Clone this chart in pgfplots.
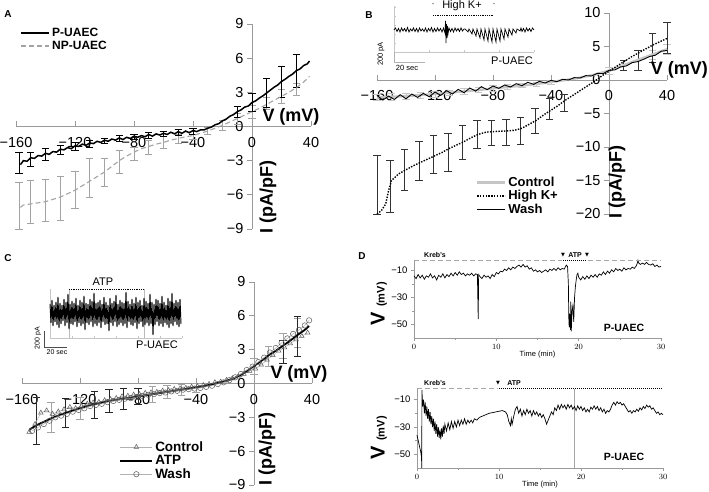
\documentclass[border=0pt]{standalone}
\usepackage{fontspec}
\setmainfont{Liberation Sans}
\newfontfamily\dejavu{DejaVu Sans}
\usepackage{pgfplots}
\pgfplotsset{compat=1.18}
\definecolor{axgray}{HTML}{9A9A9A}
\definecolor{npgray}{HTML}{A3A3A3}
\definecolor{ctlgray}{HTML}{C6C6C6}
\pgfplotsset{
  iv/.style={scale only axis, axis lines=middle, clip=false,
    axis line style={axgray, line width=0.7pt, -},
    every tick/.style={axgray, line width=0.7pt},
    major tick length=5pt,
    hide obscured x ticks=false, hide obscured y ticks=false,
    xtick align=inside, ytick align=outside,
    x tick label style={font=\fontsize{14.5}{16}\selectfont, yshift=-7pt},
    y tick label style={font=\fontsize{14.5}{16}\selectfont},
    xtick={-160,-120,-80,-40,0,40},
    xticklabels={−160,−120,−80,−40,0,40},
    xmin=-160, xmax=40,
    legend image code/.code={\draw[#1] (0pt,0pt) -- (28pt,0pt);},
  },
  ebar/.style={draw=none, mark=none, forget plot,
    error bars/.cd, y dir=both, y explicit,
    error bar style={draw=#1, line width=0.6pt, solid},
    error mark options={draw=#1, rotate=90, mark size=3.6pt, line width=0.6pt, solid}},
  trace/.style={scale only axis, axis lines=left, clip=false,
    axis line style={axgray, line width=0.6pt, -},
    every tick/.style={axgray, line width=0.6pt},
    major tick length=3pt, minor tick length=2pt, tick align=outside,
    xmin=0, xmax=30, ymin=-60, ymax=-2,
    xtick={0,10,20,30}, minor xtick={5,15,25},
    ytick={-10,-30,-50}, yticklabels={−10,−30,−50}, minor ytick={-20,-40},
    x tick label style={font=\fontsize{8}{9}\selectfont},
    y tick label style={font=\fontsize{9.5}{10}\selectfont},
    xlabel={Time (min)}, xlabel style={font=\fontsize{7.5}{8}\selectfont, yshift=5pt},
  },
  inset/.style={scale only axis, clip=false, axis x line=bottom, axis y line=left,
    axis line style={gray!45, line width=0.5pt, -},
    every tick/.style={gray!45, line width=0.4pt},
    major tick length=1.5pt, tick align=inside,
    xticklabels={}, yticklabels={}},
}
\begin{document}
\begin{tikzpicture}
\path[use as bounding box] (0,0) rectangle (709pt,492pt);

% ================= Panel A =================
\begin{axis}[iv, at={(16pt,263pt)}, anchor=south west, width=295pt, height=205pt,
  ymin=-9, ymax=9, ytick={-9,-6,-3,0,3,6,9}, yticklabels={−9,−6,−3,0,3,6,9},
  legend style={at={(0.005,1.0)}, anchor=north west, draw=none, fill=none,
    font=\fontsize{12}{13}\selectfont\bfseries, row sep=-1pt, cells={anchor=west}}]
\addplot[ebar=npgray] coordinates {
 (-158,-6.95) +- (0,2.05) (-150,-6.6) +- (0,1.9) (-140,-6.45) +- (0,1.85)
 (-130,-6.3) +- (0,1.9) (-120,-5.55) +- (0,1.65) (-110,-4.5) +- (0,1.7)
 (-100,-4.0) +- (0,1.25) (-90,-3.1) +- (0,1.05) (-80,-2.4) +- (0,0.6)
 (-70,-1.85) +- (0,0.6) (-60,-1.4) +- (0,0.5) (-50,-1.05) +- (0,0.4)
 (-40,-0.8) +- (0,0.35) (-30,-0.4) +- (0,0.3) (-20,0.1) +- (0,0.4)
 (-10,0.7) +- (0,0.5) (0,1.3) +- (0,0.6) (10,2.05) +- (0,0.5)
 (20,2.65) +- (0,0.6) (30,3.25) +- (0,0.55)};
\addplot[ebar=black] coordinates {
 (-158,-3.2) +- (0,0.9) (-150,-2.9) +- (0,0.6) (-140,-2.45) +- (0,0.5)
 (-130,-2.05) +- (0,0.4) (-120,-1.75) +- (0,0.35) (-110,-1.5) +- (0,0.3)
 (-100,-1.25) +- (0,0.25) (-90,-1.05) +- (0,0.25) (-80,-0.9) +- (0,0.25)
 (-70,-0.75) +- (0,0.25) (-60,-0.65) +- (0,0.25) (-50,-0.5) +- (0,0.25)
 (-40,-0.4) +- (0,0.25) (-10,1.3) +- (0,0.5) (0,2.1) +- (0,0.8)
 (10,2.95) +- (0,1.3) (20,3.95) +- (0,1.35) (30,4.9) +- (0,1.45)};
\addplot[black, line width=1.5pt] coordinates {
(-157,-3.35)(-155,-3.0)(-152.5,-3.05)(-150,-2.75)(-147.5,-2.8)(-145,-2.55)(-142.5,-2.6)(-140,-2.35)
(-137.5,-2.45)(-135,-2.2)(-132.5,-2.25)(-130,-2.0)(-127.5,-2.05)(-125,-1.85)(-122.5,-1.95)(-120,-1.7)
(-117.5,-1.75)(-115,-1.55)(-112.5,-1.65)(-110,-1.45)(-107.5,-1.5)(-105,-1.3)(-102.5,-1.4)(-100,-1.2)
(-97.5,-1.3)(-95,-1.1)(-92.5,-1.2)(-90,-1.0)(-87.5,-1.15)(-85,-0.95)(-82.5,-1.05)(-80,-0.85)
(-77.5,-0.95)(-75,-0.8)(-72.5,-0.9)(-70,-0.7)(-67.5,-0.85)(-65,-0.65)(-62.5,-0.75)(-60,-0.6)
(-57.5,-0.7)(-55,-0.5)(-52.5,-0.65)(-50,-0.45)(-47.5,-0.6)(-45,-0.4)(-42.5,-0.55)(-40,-0.35)
(-37.5,-0.45)(-35,-0.3)(-32.5,-0.3)(-30,-0.15)(-27.5,-0.05)(-25,0.15)(-22.5,0.25)(-20,0.5)
(-17.5,0.65)(-15,0.9)(-12.5,1.05)(-10,1.3)(-7.5,1.45)(-5,1.7)(-2.5,1.8)(0,2.1)(2.5,2.25)(5,2.5)
(7.5,2.7)(10,2.95)(12.5,3.2)(15,3.45)(17.5,3.65)(20,3.95)(22.5,4.15)(25,4.4)(27.5,4.6)(30,4.9)
(32.5,5.05)(35,5.35)(37.5,5.5)(39,5.75)};
\addlegendentry{P-UAEC}
\addplot[npgray, line width=1.1pt, dash pattern=on 5pt off 3pt] coordinates {
(-157,-7.1)(-155,-6.9)(-150,-6.8)(-145,-6.7)(-140,-6.6)(-135,-6.4)(-130,-6.2)(-125,-5.9)
(-120,-5.6)(-115,-5.2)(-110,-4.8)(-105,-4.4)(-100,-4.0)(-95,-3.5)(-90,-3.0)(-85,-2.6)
(-80,-2.25)(-75,-1.95)(-70,-1.75)(-65,-1.55)(-60,-1.4)(-55,-1.2)(-50,-1.05)(-45,-0.9)
(-40,-0.8)(-35,-0.6)(-30,-0.4)(-25,-0.15)(-20,0.1)(-15,0.4)(-10,0.7)(-5,1.0)(0,1.3)
(5,1.6)(10,1.95)(15,2.3)(20,2.65)(25,3.0)(30,3.4)(35,3.9)(39,4.4)};
\addlegendentry{NP-UAEC}
\end{axis}

% ================= Panel B =================
\begin{axis}[iv, at={(377pt,278pt)}, anchor=south west, width=290pt, height=201pt,
  ymin=-20, ymax=10, ytick={-20,-15,-10,-5,0,5,10}, yticklabels={−20,−15,−10,−5,0,5,10},
  legend style={at={(0.33,0.205)}, anchor=north west, draw=none, fill=none,
    font=\fontsize{13}{14}\selectfont\bfseries, row sep=-1.5pt, cells={anchor=west}}]
\addplot[ebar=ctlgray] coordinates {
 (-160,-2.6) +- (0,0.5) (-150,-2.5) +- (0,0.5) (-140,-2.4) +- (0,0.45) (-130,-2.25) +- (0,0.45)
 (-120,-2.1) +- (0,0.45) (-110,-1.9) +- (0,0.4) (-100,-1.7) +- (0,0.4) (-90,-1.5) +- (0,0.4)
 (-80,-1.25) +- (0,0.4) (-70,-1.05) +- (0,0.35) (-60,-0.85) +- (0,0.3) (-50,-0.6) +- (0,0.3)
 (-40,-0.3) +- (0,0.3) (0,1.4) +- (0,0.5) (30,3.8) +- (0,0.7) (40,4.6) +- (0,0.8)};
\addplot[ebar=black!80] coordinates {
 (-160,-15.6) +- (0,4.4) (-151,-15.9) +- (0,3.9) (-141,-13.45) +- (0,3.05) (-131,-12.0) +- (0,2.9)
 (-121,-11.1) +- (0,2.9) (-111,-10.75) +- (0,2.85) (-101,-9.25) +- (0,2.55) (-91,-8.1) +- (0,2.1)
 (-81,-7.9) +- (0,1.9) (-71,-7.8) +- (0,2.0) (-61,-7.55) +- (0,2.05) (-51,-6.1) +- (0,1.9)
 (-41,-4.25) +- (0,1.55) (-31,-3.45) +- (0,1.25) (10,2.2) +- (0,0.8) (20,3.0) +- (0,1.5)
 (30,4.85) +- (0,2.15) (40,6.3) +- (0,2.3)};
\addplot[ctlgray, line width=2.4pt] coordinates {
(-160,-2.6)(-150,-2.5)(-140,-2.4)(-130,-2.25)(-120,-2.1)(-110,-1.9)(-100,-1.7)(-90,-1.5)
(-80,-1.25)(-70,-1.05)(-60,-0.85)(-50,-0.6)(-40,-0.3)(-30,0.0)(-20,0.35)(-10,0.8)(0,1.4)
(10,2.2)(20,3.0)(30,3.8)(40,4.6)};
\addlegendentry{Control}
\addplot[black, line width=1.4pt, dash pattern=on 1.4pt off 1.4pt] coordinates {
(-160,-20)(-157,-19.5)(-154,-18.5)(-152,-16.5)(-150,-15.0)(-145,-14.0)(-140,-13.4)(-135,-12.8)
(-130,-12.3)(-125,-11.8)(-120,-11.3)(-115,-10.8)(-110,-10.2)(-105,-9.7)(-100,-9.2)(-95,-8.6)
(-90,-8.1)(-85,-7.8)(-80,-7.7)(-75,-7.65)(-70,-7.6)(-65,-7.5)(-60,-7.2)(-55,-6.6)(-50,-6.0)
(-45,-5.2)(-40,-4.5)(-35,-3.8)(-30,-3.0)(-25,-2.3)(-20,-1.6)(-15,-0.9)(-10,-0.2)(-5,0.6)
(0,1.3)(5,2.0)(10,2.7)(15,3.4)(20,4.0)(25,4.6)(30,5.2)(35,5.7)(40,6.2)};
\addlegendentry{High K+}
\addplot[black, line width=0.9pt] coordinates {
(-160,-2.3)(-156,-3.0)(-152,-2.4)(-148,-2.9)(-144,-2.2)(-140,-2.8)(-136,-2.1)(-132,-2.6)
(-128,-2.0)(-124,-2.5)(-120,-1.8)(-116,-2.3)(-112,-1.6)(-108,-2.1)(-104,-1.4)(-100,-1.9)
(-96,-1.2)(-92,-1.65)(-88,-1.0)(-84,-1.45)(-80,-0.9)(-76,-1.25)(-72,-0.75)(-68,-1.05)
(-64,-0.55)(-60,-0.85)(-56,-0.35)(-52,-0.65)(-48,-0.2)(-44,-0.45)(-40,-0.05)(-36,-0.25)
(-32,0.1)(-28,0.0)(-24,0.35)(-20,0.3)(-16,0.65)(-12,0.6)(-8,1.0)(-4,0.95)(0,1.45)(4,1.5)
(8,1.95)(12,2.1)(16,2.6)(20,2.75)(24,3.1)(28,3.5)(32,3.7)(36,4.3)(40,4.4)};
\addlegendentry{Wash}
\end{axis}

% ================= Panel C =================
\begin{axis}[iv, at={(22pt,7pt)}, anchor=south west, width=290pt, height=203pt,
  ymin=-9, ymax=9, ytick={-9,-6,-3,0,3,6,9}, yticklabels={−9,−6,−3,0,3,6,9},
  legend style={at={(0.325,0.235)}, anchor=north west, draw=none, fill=none,
    font=\fontsize{13.5}{14}\selectfont\bfseries, row sep=-1.5pt, cells={anchor=west}},
  legend image code/.code={\draw[mark repeat=2,mark phase=2,#1] plot coordinates {(0pt,0pt) (16pt,0pt) (32pt,0pt)};}]
\addplot[ebar=npgray] coordinates {
 (-140,-3.0) +- (0,1.3) (-120,-2.2) +- (0,1.0) (-70,-0.95) +- (0,0.7) (-60,-0.75) +- (0,0.6)
 (-50,-0.55) +- (0,0.5) (-40,-0.35) +- (0,0.4) (0,1.55) +- (0,0.7) (10,2.4) +- (0,0.9)
 (20,3.35) +- (0,1.1) (30,4.5) +- (0,1.3)};
\addplot[ebar=black!85] coordinates {
 (-150,-3.3) +- (0,2.1) (-130,-2.6) +- (0,1.3) (-110,-1.85) +- (0,1.2) (-100,-1.55) +- (0,1.0)
 (-90,-1.35) +- (0,0.9) (-80,-1.15) +- (0,0.7) (20,2.8) +- (0,1.0) (30,4.2) +- (0,1.75)};
\addplot[gray!60, line width=0.5pt, mark=triangle, mark size=2.7pt, mark options={solid, draw=gray!70!black, line width=0.5pt}] coordinates {
(-155,-4.3)(-151,-3.6)(-147,-2.6)(-143,-2.4)(-139,-2.7)(-135,-2.5)(-131,-2.3)(-127,-2.1)
(-123,-2.2)(-119,-2.0)(-115,-1.8)(-111,-1.7)(-107,-1.65)(-103,-1.5)(-99,-1.4)(-95,-1.3)
(-91,-1.15)(-87,-1.1)(-83,-1.0)(-79,-0.95)(-75,-0.85)(-71,-0.8)(-67,-0.75)(-63,-0.65)
(-59,-0.6)(-55,-0.5)(-51,-0.45)(-47,-0.4)(-43,-0.3)(-39,-0.25)(-35,-0.15)(-31,-0.05)
(-27,0.1)(-23,0.15)(-19,0.3)(-15,0.45)(-11,0.6)(-7,0.85)(-3,1.1)(1,1.3)(5,1.65)(9,2.1)
(13,2.5)(17,2.9)(21,3.2)(25,3.55)(29,3.9)(33,4.2)(37,4.5)};
\addlegendentry{Control}
\addplot[black, line width=1.8pt] coordinates {
(-155,-4.1)(-150,-3.7)(-145,-3.4)(-140,-3.1)(-135,-2.85)(-130,-2.6)(-125,-2.4)(-120,-2.2)
(-115,-2.0)(-110,-1.85)(-105,-1.7)(-100,-1.55)(-95,-1.45)(-90,-1.35)(-85,-1.25)(-80,-1.15)
(-75,-1.05)(-70,-0.95)(-65,-0.85)(-60,-0.75)(-55,-0.65)(-50,-0.55)(-45,-0.45)(-40,-0.35)
(-35,-0.25)(-30,-0.1)(-25,0.05)(-20,0.2)(-15,0.4)(-10,0.7)(-5,1.1)(0,1.55)(5,2.0)(10,2.5)
(15,2.9)(20,3.35)(25,3.8)(30,4.3)(35,4.75)(38,5.1)};
\addlegendentry{ATP}
\addplot[gray!60, line width=0.5pt, mark=o, mark size=2.7pt, mark options={solid, draw=gray!70!black, line width=0.5pt}] coordinates {
(-153,-4.2)(-149,-3.9)(-145,-3.6)(-141,-3.3)(-137,-3.0)(-133,-2.85)(-129,-2.7)(-125,-2.5)
(-121,-2.35)(-117,-2.2)(-113,-2.0)(-109,-1.9)(-105,-1.8)(-101,-1.65)(-97,-1.55)(-93,-1.45)
(-89,-1.35)(-85,-1.3)(-81,-1.2)(-77,-1.1)(-73,-1.0)(-69,-0.95)(-65,-0.85)(-61,-0.8)
(-57,-0.7)(-53,-0.65)(-49,-0.55)(-45,-0.5)(-41,-0.45)(-37,-0.4)(-33,-0.3)(-29,-0.2)
(-25,-0.05)(-21,0.1)(-17,0.3)(-13,0.55)(-9,0.85)(-5,1.2)(-1,1.5)(3,1.9)(7,2.3)(11,2.75)
(15,3.15)(19,3.6)(23,4.0)(27,4.4)(31,4.75)(35,5.15)(38,5.6)};
\addlegendentry{Wash}
\end{axis}

% ================= Inset B =================
\begin{axis}[inset, at={(394pt,440pt)}, anchor=south west, width=140pt, height=46pt,
  xmin=0, xmax=140, ymin=0, ymax=46, xtick={0,35,70,105,140}, ytick={0,9,18,27,36,45}]
\addplot[black, line width=0.7pt] coordinates {
(0,22)(1.5,24)(3,20.5)(4.5,23.5)(6,20)(7.5,24)(9,21)(10.5,23.5)(12,20.5)(13.5,24.5)(15,20)
(16.5,23)(18,21)(19.5,24)(21,20.5)(22.5,23.5)(24,20)(25.5,24)(27,21)(28.5,23)(30,20.5)
(31.5,24)(33,20)(34.5,23.5)(36,21)(37.5,24.5)(39,20)(40.5,23.5)(42,20.5)(43.5,24)(45,21)
(46.5,23.5)(48,20)(49.5,24)(51,19)(51.5,31)(52,9)(52.5,28)(53,14)(53.5,26)(54,18)(55,24)
(56.5,20.5)(58,23.5)(59.5,20)(61,24)(62.5,21)(64,23.5)(65.5,20.5)(67,24)(68.5,21)(70,23)
(71,23)(74,20)(75,23)(78,18)(79,23)(82,16)(83,23)(86,14)(87,23)(90,12)(91,23)(94,11)
(95,23)(98,10)(99,23)(102,10)(103,23)(106,11)(107,23)(110,13)(111,23)(114,15)(115,23)
(118,17)(119,23)(122,19)(123,23)(126,21)(127,24)(128,20.5)(129.5,23.5)(131,20)(132.5,24)
(134,21)(135.5,23.5)(137,20.5)(138.5,24)(140,22)};
\end{axis}

% ================= Inset C =================
\begin{axis}[inset, at={(50pt,154pt)}, anchor=south west, width=132pt, height=49pt,
  xmin=0, xmax=132, ymin=0, ymax=49, xtick={0,22,44,66,88,110,132}, ytick={0,12,24,36,48}]
\draw[gray!55, line width=0.6pt] (axis cs:19,0) -- (axis cs:19,49);
\draw[gray!55, line width=0.6pt] (axis cs:94,0) -- (axis cs:94,49);
\addplot[black, line width=0.95pt] coordinates {
(0,34)(1,15)(2,38)(3,12)(4,33)(5,16)(6,36)(7,13)(8,41)(9,10)(10,35)(11,14)(12,33)(13,17)
(14,39)(15,12)(16,36)(17,15)(18,44)(19,9)(20,34)(21,14)(22,37)(23,13)(24,35)(25,16)(26,40)
(27,11)(28,33)(29,15)(30,38)(31,12)(32,36)(33,14)(34,42)(35,8)(36,35)(37,15)(38,34)(39,13)
(40,39)(41,16)(42,37)(43,11)(44,45)(45,14)(46,35)(47,12)(48,36)(49,15)(50,38)(51,10)(52,34)
(53,16)(54,41)(55,13)(56,36)(57,14)(58,33)(59,7)(60,40)(61,15)(62,35)(63,12)(64,37)(65,16)
(66,43)(67,11)(68,34)(69,13)(70,38)(71,15)(72,36)(73,12)(74,35)(75,14)(76,46)(77,10)(78,37)
(79,16)(80,34)(81,13)(82,39)(83,12)(84,35)(85,15)(86,41)(87,9)(88,36)(89,14)(90,38)(91,16)
(92,33)(93,11)(94,40)(95,13)(96,37)(97,15)(98,35)(99,12)(100,44)(101,14)(102,36)(103,3)
(104,34)(105,13)(106,39)(107,16)(108,38)(109,12)(110,35)(111,14)(112,42)(113,11)(114,36)
(115,15)(116,33)(117,13)(118,40)(119,10)(120,37)(121,14)(122,45)(123,12)(124,35)(125,16)
(126,38)(127,13)(128,36)(129,11)(130,39)(131,14)};
\end{axis}

% ================= Panel D upper =================
\begin{axis}[trace, at={(414pt,154pt)}, anchor=south west, width=247pt, height=78.3pt]
\addplot[black, line width=0.7pt] coordinates {
(0,-14)(0.25,-16)(0.5,-13)(0.75,-15.5)(1,-13.5)(1.25,-16.5)(1.5,-14)(1.75,-15)(2,-12.5)
(2.25,-15.5)(2.5,-14)(2.75,-17)(3,-13.5)(3.25,-15)(3.5,-12.5)(3.75,-15.5)(4,-13)(4.25,-14.5)
(4.5,-12)(4.75,-14)(5,-11.5)(5.25,-13.5)(5.5,-11)(5.75,-13)(6,-12)(6.25,-14)(6.5,-12.5)
(6.75,-13.5)(7,-12)(7.25,-14)(7.5,-12.5)(7.7,-13)(7.8,-46)(7.85,-13)(8,-14.5)(8.25,-16)
(8.5,-13.5)(8.75,-15)(9,-14)(9.25,-16)(9.5,-13)(9.75,-14.5)(10,-11.5)(10.25,-12.5)(10.5,-10.5)
(10.75,-11)(11,-9)(11.25,-10)(11.5,-8)(11.75,-9.5)(12,-7.5)(12.25,-8.5)(12.5,-7)(12.75,-6)
(13,-7.5)(13.25,-5.5)(13.5,-7.5)(13.75,-6.5)(14,-9)(14.25,-8)(14.5,-10.5)(14.75,-9.5)(15,-11)
(15.25,-10)(15.5,-11.5)(15.75,-10.5)(16,-9.5)(16.25,-11)(16.5,-9)(16.75,-10)(17,-8.5)
(17.25,-10)(17.5,-8)(17.75,-9.5)(18,-8.5)(18.25,-9)(18.5,-6)(18.65,-7)(18.75,-20)(18.8,-45)
(18.85,-52)(18.9,-42)(19.0,-54)(19.05,-33)(19.1,-55)(19.2,-40)(19.3,-36)(19.4,-48)(19.5,-30)
(19.6,-22)(19.7,-17)(19.8,-13)(19.9,-12)(20,-15)(20.25,-17)(20.5,-14.5)(20.75,-16.5)(21,-14)
(21.25,-16)(21.5,-13.5)(21.75,-15)(22,-13)(22.25,-15)(22.5,-12.5)(22.75,-13.5)(23,-11)
(23.25,-13)(23.5,-10.5)(23.75,-12)(24,-9.5)(24.25,-11)(24.5,-8.5)(24.75,-10)(25,-9)
(25.25,-10.5)(25.5,-8)(25.75,-9.5)(26,-8.5)(26.25,-9)(26.5,-7.5)(26.75,-8.5)(27,-6.5)
(27.1,-5)(27.2,-2.5)(27.3,-4.5)(27.5,-5.5)(27.75,-4.5)(28,-5.5)(28.25,-4)(28.5,-5.5)
(28.75,-6)(29,-5)(29.25,-7)(29.5,-6)(29.75,-7.5)(30,-7)};
\end{axis}

% ================= Panel D lower =================
\begin{axis}[trace, at={(417pt,24pt)}, anchor=south west, width=246pt, height=79.3pt]
\draw[gray!70, line width=0.7pt] (axis cs:19.2,-60) -- (axis cs:19.2,-2);
\addplot[black, line width=0.7pt] coordinates {
(0,-36)(0.15,-40)(0.3,-44)(0.45,-48)(0.55,-52)(0.58,-60)(0.6,-3)(0.7,-15)(0.8,-10)(0.9,-20)
(1.0,-12)(1.1,-22)(1.2,-15)(1.3,-24)(1.4,-17)(1.5,-26)(1.6,-19)(1.7,-28)(1.8,-22)(1.9,-30)
(2.0,-24)(2.1,-33)(2.2,-26)(2.3,-35)(2.4,-28)(2.5,-37)(2.6,-30)(2.7,-38)(2.8,-32)(2.9,-39)
(3.0,-31)(3.1,-37)(3.2,-29)(3.3,-35)(3.4,-28)(3.6,-33)(3.8,-27)(4.0,-32)(4.2,-26)(4.4,-31)
(4.6,-26)(4.8,-30)(5.0,-25)(5.2,-29)(5.4,-25)(5.6,-28)(5.8,-24)(6.0,-28)(6.2,-25)(6.4,-27)
(6.6,-25)(6.8,-27)(7.0,-24)(7.3,-25)(7.6,-23)(8.0,-22)(8.4,-21)(8.8,-20)(9.2,-19.5)(9.6,-19)
(10.0,-18.5)(10.4,-18)(10.8,-19)(11.0,-21)(11.2,-26)(11.4,-29)(11.5,-24)(11.6,-28)(11.8,-22)
(12.0,-17)(12.2,-15)(12.4,-20)(12.6,-17)(12.8,-22)(13.0,-18)(13.2,-21)(13.4,-17)(13.6,-20)
(13.8,-18)(14.0,-22)(14.2,-18)(14.4,-21)(14.6,-19)(14.8,-22)(15.0,-20)(15.2,-23)(15.4,-21)
(15.6,-24)(15.8,-28)(16.0,-25)(16.2,-22)(16.4,-19)(16.6,-21)(16.8,-16)(17.0,-18)(17.2,-14)
(17.4,-17)(17.6,-13.5)(17.8,-16)(18.0,-14)(18.2,-17)(18.4,-13.5)(18.6,-16)(18.8,-14)(19.0,-17)
(19.2,-15)(19.4,-18)(19.6,-14.5)(19.8,-17)(20.0,-15)(20.2,-18)(20.4,-16)(20.6,-19)(20.8,-17)
(21.0,-19)(21.2,-15.5)(21.4,-17)(21.6,-14.5)(21.8,-17)(22.0,-15)(22.2,-18)(22.4,-16)(22.6,-19)
(22.8,-17)(23.0,-20)(23.2,-18)(23.4,-19)(23.6,-17)(23.8,-14)(24.0,-12)(24.2,-14)(24.4,-11.5)
(24.6,-13)(24.8,-12)(25.0,-14)(25.2,-13)(25.4,-15)(25.6,-17)(25.8,-19)(26.0,-18)(26.2,-20)
(26.4,-18)(26.6,-19)(26.8,-17)(27.0,-18.5)(27.2,-16)(27.4,-17.5)(27.6,-15)(27.8,-16.5)
(28.0,-14)(28.2,-15.5)(28.4,-14.5)(28.6,-17)(28.8,-16)(29.0,-18)(29.2,-20)(29.4,-19)
(29.6,-21)(29.8,-20)(30,-21)};
\end{axis}

% ================= Text and decorations =================
\def\panel{\fontsize{10}{10}\selectfont\bfseries}
\def\axl{\fontsize{18}{18}\selectfont\bfseries}
\node[anchor=center] at (8pt,478pt) {\panel A};
\node[anchor=center] at (369pt,477pt) {\panel B};
\node[anchor=center] at (8pt,234pt) {\panel C};
\node[anchor=center] at (362pt,236pt) {\panel D};

\node at (291pt,375pt) {\axl V (mV)};
\node[rotate=90] at (268pt,295pt) {\axl I (pA/pF)};
\node[anchor=east, inner sep=0pt] at (708pt,422pt) {\axl V (mV)};
\node[rotate=90] at (617pt,310pt) {\axl I (pA/pF)};
\node at (299pt,118pt) {\axl V (mV)};
\node[rotate=90] at (267pt,43pt) {\axl I (pA/pF)};

% inset B decorations
\node at (462pt,486pt) {\fontsize{11}{11}\selectfont High K+};
\node at (433pt,487pt) {\fontsize{9}{9}\selectfont ·};
\node at (494pt,487pt) {\fontsize{9}{9}\selectfont ·};
\draw[black, line width=0.9pt, dash pattern=on 0.9pt off 0.9pt] (433pt,477pt) -- (494pt,477pt);
\node at (512pt,431pt) {\fontsize{11}{11}\selectfont P-UAEC};
\draw[gray!60, line width=0.6pt] (394pt,440pt) -- (394pt,430pt) -- (425pt,430pt);
\node at (407pt,424pt) {\fontsize{7.5}{8}\selectfont 20 sec};
\node[rotate=90] at (381pt,438pt) {\fontsize{7.5}{8}\selectfont 200 pA};

% inset C decorations
\node at (103pt,210pt) {\fontsize{11}{11}\selectfont ATP};
\draw[black, line width=0.9pt, dash pattern=on 0.9pt off 0.9pt] (69pt,203pt) -- (144pt,203pt);
\node at (157pt,147pt) {\fontsize{11}{11}\selectfont P-UAEC};
\draw[black!70, line width=0.6pt] (44pt,161pt) -- (44pt,145pt) -- (67pt,145pt);
\node at (57pt,140pt) {\fontsize{7}{7}\selectfont 20 sec};
\node[rotate=90] at (38pt,154pt) {\fontsize{7}{7}\selectfont 200 pA};

% panel D decorations
\draw[gray!70, line width=1pt, dash pattern=on 5pt off 3pt] (414pt,231.5pt) -- (562pt,231.5pt);
\draw[black, line width=1pt, dash pattern=on 1pt off 1pt] (563pt,231.5pt) -- (587pt,231.5pt);
\draw[gray!70, line width=1pt, dash pattern=on 5pt off 3pt] (588pt,231.5pt) -- (661pt,231.5pt);
\node at (435pt,236.5pt) {\fontsize{7}{7}\selectfont\bfseries Kreb's};
\node at (563pt,236.5pt) {\fontsize{5}{5}\selectfont\dejavu ▼};
\node at (587pt,236.5pt) {\fontsize{5}{5}\selectfont\dejavu ▼};
\node at (575pt,236.5pt) {\fontsize{7}{7}\selectfont\bfseries ATP};
\node at (624pt,164pt) {\fontsize{10.5}{11}\selectfont\bfseries P-UAEC};
\node[rotate=90] at (379pt,188pt) {\fontsize{20}{20}\selectfont\bfseries V \fontsize{11}{11}\selectfont(mV)};

\draw[gray!70, line width=1pt, dash pattern=on 5pt off 3pt] (417pt,103.3pt) -- (498pt,103.3pt);
\draw[black, line width=1pt, dash pattern=on 1pt off 1pt] (499pt,103.3pt) -- (663pt,103.3pt);
\node at (435pt,109pt) {\fontsize{7}{7}\selectfont\bfseries Kreb's};
\node at (498pt,109pt) {\fontsize{5}{5}\selectfont\dejavu ▼};
\node at (514pt,109pt) {\fontsize{7}{7}\selectfont\bfseries ATP};
\node at (624pt,35pt) {\fontsize{10.5}{11}\selectfont\bfseries P-UAEC};
\node[rotate=90] at (379pt,54pt) {\fontsize{20}{20}\selectfont\bfseries V \fontsize{11}{11}\selectfont(mV)};
\end{tikzpicture}
\end{document}
